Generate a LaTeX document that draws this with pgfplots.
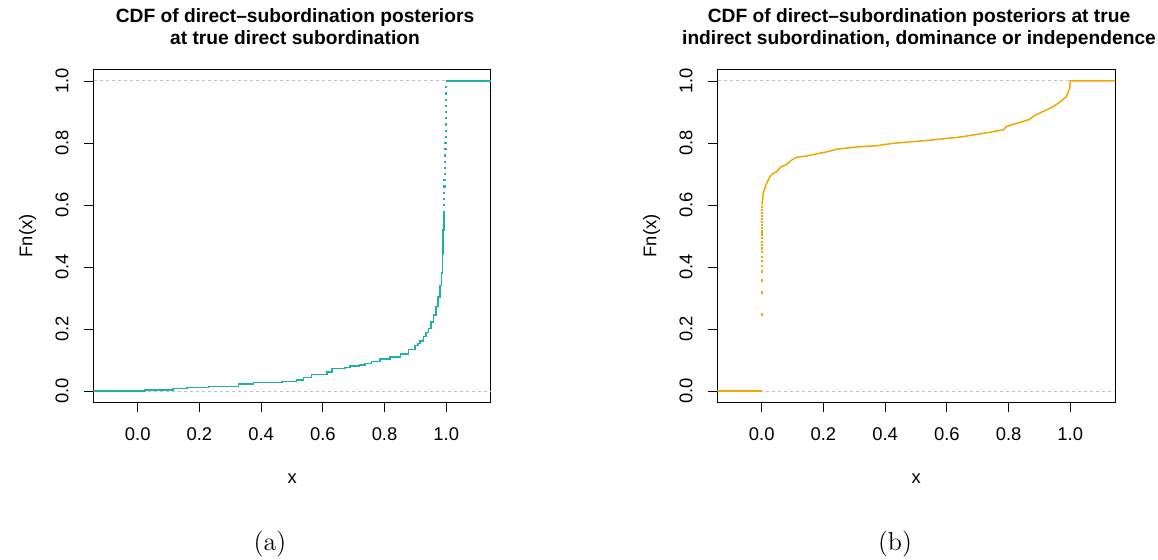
\documentclass[border=0pt]{standalone}
\usepackage{fontspec}
\usepackage{pgfplots}
\pgfplotsset{compat=1.18}
\newfontfamily\rsans{Liberation Sans}
\definecolor{tealc}{RGB}{32,178,160}
\definecolor{goldc}{RGB}{240,168,0}
\definecolor{dashgray}{RGB}{195,195,195}

\pgfplotsset{rstyle/.style={
  scale only axis, width=198.85pt, height=166.7pt,
  xmin=-0.144, xmax=1.145, ymin=-0.0377, ymax=1.0377,
  xtick={0,0.2,0.4,0.6,0.8,1}, ytick={0,0.2,0.4,0.6,0.8,1},
  tick align=outside, major tick length=4.7pt,
  xtick pos=bottom, ytick pos=left,
  axis line style={line width=0.5pt},
  every tick/.style={black, line width=0.45pt},
  tick label style={font=\rsans\fontsize{9.2}{10}\selectfont, inner sep=0pt},
  xticklabel style={anchor=north, yshift=-7.75pt},
  yticklabel style={rotate=90, anchor=south, inner xsep=0pt, inner ysep=7.5pt},
  label style={font=\rsans\fontsize{9.2}{10}\selectfont},
  xlabel={x}, ylabel={Fn(x)},
  xlabel style={at={(axis description cs:0.5,0)}, anchor=base, yshift=-40.6pt, inner sep=0pt},
  ylabel style={at={(axis description cs:-0.153,0.5)}, anchor=base, inner sep=0pt},
  /pgf/number format/.cd, fixed, fixed zerofill, precision=1, assume math mode=true, /pgfplots/.cd,
  clip=true,
}}

\begin{document}
\begin{tikzpicture}
\useasboundingbox (0,0) rectangle (579pt,280pt);

% ---------- (a) ----------
\begin{axis}[rstyle, at={(46.65pt,78.65pt)}, anchor=south west]
\addplot[dashgray, dash pattern=on 1.6pt off 1.4pt, line width=0.5pt] coordinates {(-0.2,0) (1.2,0)};
\addplot[dashgray, dash pattern=on 1.6pt off 1.4pt, line width=0.5pt] coordinates {(-0.2,1) (1.2,1)};
\addplot[tealc, line width=0.75pt, const plot mark left] coordinates {
(-0.2,0) (0.024,0.004) (0.115,0.0075) (0.159,0.012) (0.229,0.015) (0.326,0.022)
(0.375,0.027) (0.467,0.031) (0.515,0.036) (0.537,0.044) (0.564,0.053) (0.614,0.062)
(0.629,0.072) (0.672,0.076) (0.688,0.080) (0.718,0.084) (0.737,0.089) (0.758,0.095)
(0.785,0.104) (0.818,0.110) (0.851,0.120) (0.877,0.134) (0.899,0.146) (0.909,0.154)
(0.915,0.162) (0.926,0.175) (0.934,0.188) (0.942,0.202) (0.950,0.222) (0.958,0.245)
(0.966,0.272) (0.974,0.304) (0.980,0.340) (0.985,0.380) (0.988,0.440) (0.990,0.520)
(0.992,0.580)
};
\addplot[tealc, only marks, mark=square*, mark size=0.3pt] coordinates {
(0.992,0.60) (0.993,0.62) (0.993,0.64) (0.994,0.66) (0.994,0.68) (0.995,0.70)
(0.995,0.72) (0.996,0.74) (0.996,0.76) (0.997,0.78) (0.997,0.80) (0.998,0.82)
(0.998,0.84) (0.998,0.86) (0.999,0.88) (0.999,0.90) (0.999,0.92) (0.999,0.94)
(1.0,0.96) (1.0,0.98)
};
\addplot[tealc, line width=0.75pt] coordinates {(1.0,1.0) (1.2,1.0)};
\end{axis}

% ---------- (b) ----------
\begin{axis}[rstyle, at={(358.65pt,78.65pt)}, anchor=south west]
\addplot[dashgray, dash pattern=on 1.6pt off 1.4pt, line width=0.5pt] coordinates {(-0.2,0) (1.2,0)};
\addplot[dashgray, dash pattern=on 1.6pt off 1.4pt, line width=0.5pt] coordinates {(-0.2,1) (1.2,1)};
\addplot[goldc, line width=0.75pt] coordinates {(-0.2,0) (0.0,0)};
\addplot[goldc, only marks, mark=square*, mark size=0.3pt] coordinates {
(0.0,0.247) (0.0,0.318) (0.0,0.357) (0.0,0.386) (0.0,0.403) (0.0,0.420)
(0.0,0.433) (0.0,0.449) (0.0,0.460) (0.0,0.471) (0.0,0.482) (0.0,0.493)
(0.0,0.503) (0.0,0.511) (0.0,0.517) (0.0,0.525) (0.0,0.535) (0.0,0.545)
(0.0,0.555) (0.0,0.565) (0.0,0.575) (0.0,0.585) (0.0,0.595)
};
\addplot[goldc, line width=0.75pt] coordinates {
(0.001,0.600) (0.005,0.638) (0.010,0.655) (0.016,0.670) (0.024,0.686) (0.032,0.699)
(0.049,0.708) (0.061,0.722) (0.081,0.731) (0.097,0.745) (0.113,0.754) (0.146,0.758)
(0.178,0.765) (0.210,0.771) (0.243,0.780) (0.318,0.788) (0.372,0.791) (0.426,0.799)
(0.534,0.808) (0.642,0.819) (0.706,0.829) (0.782,0.842) (0.793,0.853) (0.825,0.863)
(0.868,0.876) (0.885,0.889) (0.911,0.901) (0.944,0.917) (0.965,0.931) (0.987,0.949)
(0.994,0.965) (0.998,0.976) (1.0,1.0) (1.2,1.0)
};
\end{axis}

% titles
\node[font=\rsans\bfseries\fontsize{9.6}{11}\selectfont, anchor=base] at (147.5pt,268.65pt) {CDF of direct–subordination posteriors};
\node[font=\rsans\bfseries\fontsize{9.6}{11}\selectfont, anchor=base] at (147.5pt,257.5pt) {at true direct subordination};
\node[font=\rsans\bfseries\fontsize{9.6}{11}\selectfont, anchor=base] at (459.5pt,268.65pt) {CDF of direct–subordination posteriors at true};
\node[font=\rsans\bfseries\fontsize{9.6}{11}\selectfont, anchor=base] at (459.5pt,257.5pt) {indirect subordination, dominance or independence};

% sub-captions
\node[font=\fontsize{13}{15}\selectfont, anchor=base] at (135pt,4.5pt) {(a)};
\node[font=\fontsize{13}{15}\selectfont, anchor=base] at (447.5pt,4.5pt) {(b)};
\end{tikzpicture}
\end{document}
